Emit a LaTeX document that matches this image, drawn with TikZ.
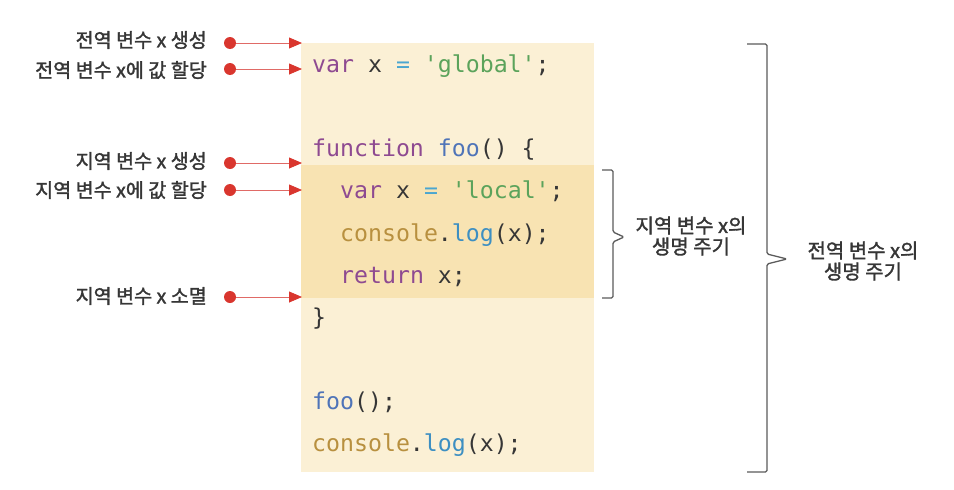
\documentclass[tikz,border=0pt]{standalone}
\usepackage{fontspec}
\usetikzlibrary{arrows.meta}
\newfontfamily\krfont[FakeBold=1.6]{Noto Sans CJK KR}
\newfontfamily\codefont[Ligatures=TeXOff]{DejaVu Sans Mono}
\definecolor{bgout}{HTML}{FBF0D5}
\definecolor{bgin}{HTML}{F8E3B2}
\definecolor{ckw}{HTML}{8E4A91}
\definecolor{cstr}{HTML}{5BA35B}
\definecolor{cop}{HTML}{4AA6D0}
\definecolor{cfn}{HTML}{4F74B8}
\definecolor{cobj}{HTML}{B8903F}
\definecolor{cmth}{HTML}{3D8FC2}
\definecolor{ctxt}{HTML}{363636}
\definecolor{cdot}{HTML}{D9362E}
\definecolor{cline}{HTML}{E06A66}
\definecolor{cbr}{HTML}{5A5A5A}
\newcommand{\ckw}[1]{\textcolor{ckw}{#1}}
\newcommand{\cstr}[1]{\textcolor{cstr}{#1}}
\newcommand{\cop}[1]{\textcolor{cop}{#1}}
\newcommand{\cfn}[1]{\textcolor{cfn}{#1}}
\newcommand{\cobj}[1]{\textcolor{cobj}{#1}}
\newcommand{\cmth}[1]{\textcolor{cmth}{#1}}
\begin{document}
\begin{tikzpicture}[x=1pt,y=-1pt,
  codeline/.style={anchor=base west,inner sep=0pt,text=ctxt,font=\codefont\fontsize{23.2}{26}\selectfont},
  lbl/.style={anchor=east,inner sep=0pt,text=ctxt,font=\krfont\fontsize{19.6}{21}\selectfont},
  brlbl/.style={align=center,inner sep=0pt,text=ctxt,font=\krfont\fontsize{20}{21}\selectfont},
  dot/.style={circle,fill=cdot,inner sep=0pt,minimum size=12pt},
  arr/.style={draw=cline,line width=0.8pt,-{Triangle[length=13pt,width=11pt,color=cdot]}},
  brace/.style={draw=cbr,line width=1.3pt,rounded corners=1.5pt}]
\useasboundingbox (0,0) rectangle (954,490);
% code background
\fill[bgout] (301,43) rectangle (594,472);
\fill[bgin] (301,165) rectangle (594,298);
% code lines
\node[codeline] (c1) at (312,72) {\ckw{var} x \cop{=} \cstr{'global'};};
\node[codeline] (c2) at (312,156) {\ckw{function} \cfn{foo}() \{};
\node[codeline] (c3) at (340,198) {\ckw{var} x \cop{=} \cstr{'local'};};
\node[codeline] (c4) at (340,241) {\cobj{console}.\cmth{log}(x);};
\node[codeline] (c5) at (340,283) {\ckw{return} x;};
\node[codeline] (c6) at (312,325) {\}};
\node[codeline] (c7) at (312,409) {\cfn{foo}();};
\node[codeline] (c8) at (312,451) {\cobj{console}.\cmth{log}(x);};
% labels
\node[lbl] (l1) at (207,40) {전역 변수 x 생성};
\node[lbl] (l2) at (207,70) {전역 변수 x에 값 할당};
\node[lbl] (l3) at (207,161) {지역 변수 x 생성};
\node[lbl] (l4) at (207,190) {지역 변수 x에 값 할당};
\node[lbl] (l5) at (207,296) {지역 변수 x 소멸};
% dots and arrows
\node[dot] (d1) at (230,43) {};
\node[dot] (d2) at (230,69) {};
\node[dot] (d3) at (230,163) {};
\node[dot] (d4) at (230,190) {};
\node[dot] (d5) at (230,297) {};
\coordinate (e1) at (302,43);
\coordinate (e2) at (302,69);
\coordinate (e3) at (302,163);
\coordinate (e4) at (302,190);
\coordinate (e5) at (302,297);
\draw[arr] (d1) -- (e1);
\draw[arr] (d2) -- (e2);
\draw[arr] (d3) -- (e3);
\draw[arr] (d4) -- (e4);
\draw[arr] (d5) -- (e5);
% local brace
\draw[brace] (602,170) -- (613,170) -- (613,232) -- (624,237) -- (613,242) -- (613,298) -- (602,298);
\node[brlbl] (b1) at (691,236) {지역 변수 x의\\생명 주기};
% global brace
\draw[brace] (747,44) -- (767,44) -- (767,254) -- (787,259) -- (767,264) -- (767,472) -- (747,472);
\node[brlbl] (b2) at (863,261) {전역 변수 x의\\생명 주기};
\end{tikzpicture}
\end{document}
